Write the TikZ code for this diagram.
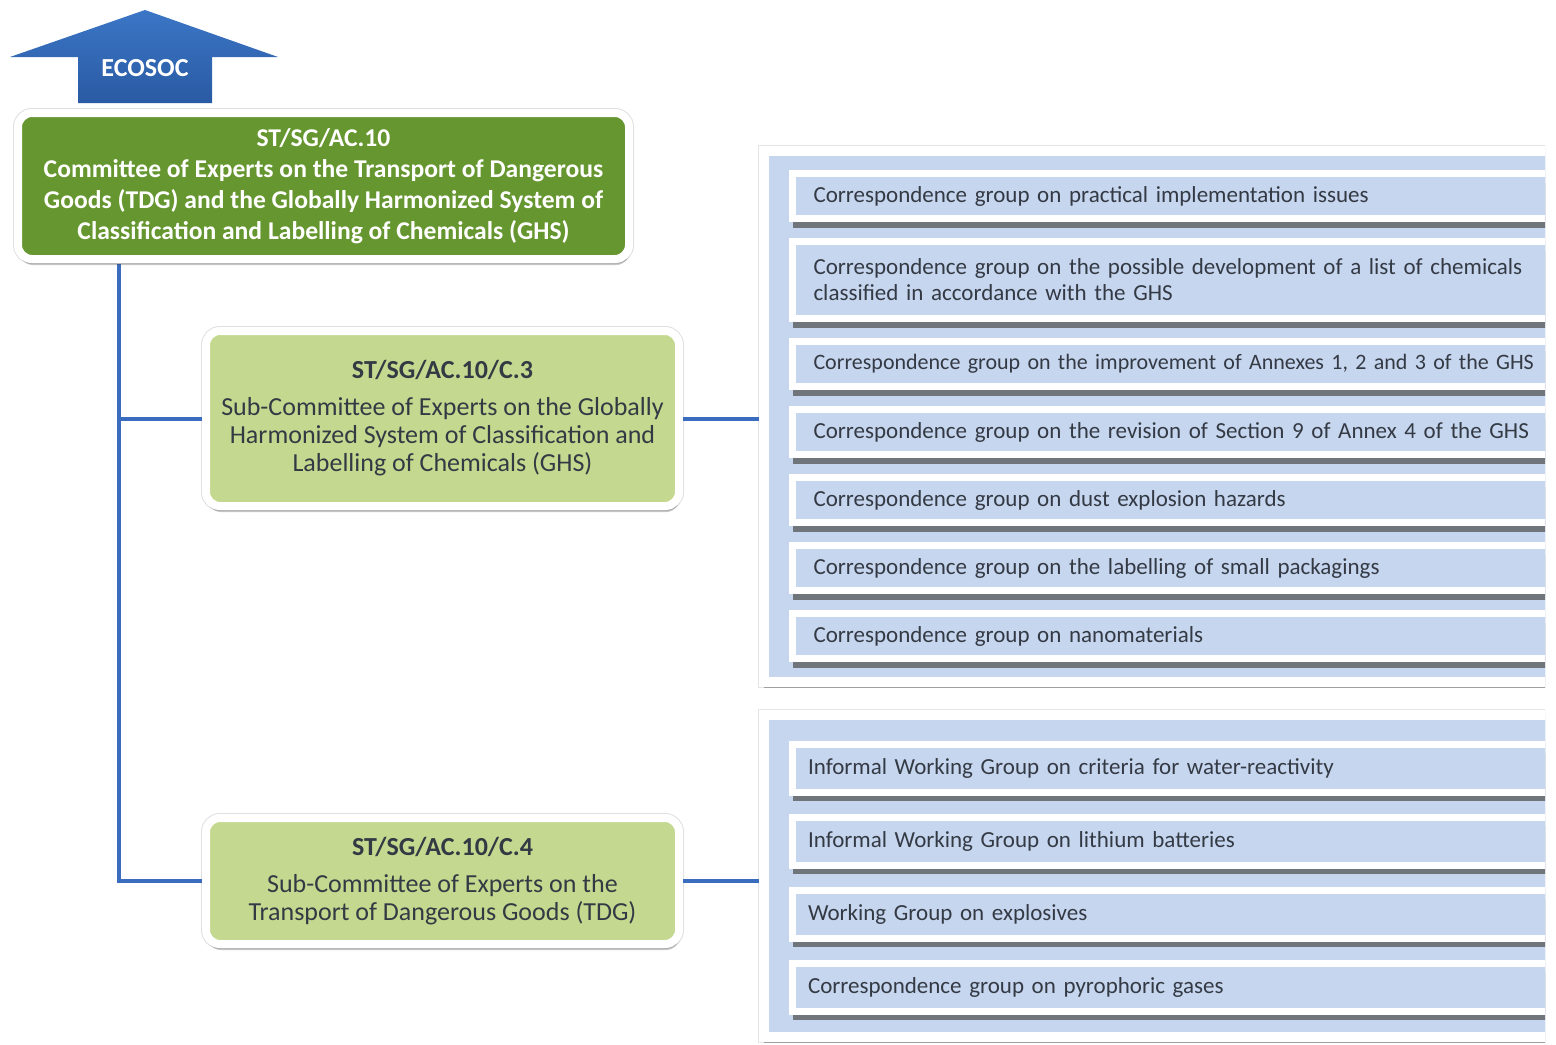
\documentclass[tikz,border=0pt]{standalone}
\usepackage{fontspec}
\setmainfont{Carlito}
\usetikzlibrary{positioning,shadows}

\definecolor{arrowtop}{HTML}{3B76C6}
\definecolor{arrowbot}{HTML}{2A5AA3}
\definecolor{lineblue}{HTML}{3A6DC0}
\definecolor{darkgreen}{HTML}{66962F}
\definecolor{lightgreen}{HTML}{C4D98F}
\definecolor{paleblue}{HTML}{C6D6EF}
\definecolor{textgray}{HTML}{343A44}

\tikzset{
  greenbox/.style={rectangle, rounded corners=7pt, draw=white, line width=4pt, align=center,
    preaction={draw=black!12, line width=5pt},
    drop shadow={shadow xshift=0.5pt, shadow yshift=-3pt, fill=black, opacity=.22}},
  maincom/.style={greenbox, fill=darkgreen, text=white, minimum width=305.5pt, minimum height=73pt,
    font=\bfseries\fontsize{12.8}{15.5}\selectfont},
  subcom/.style={greenbox, fill=lightgreen, text=textgray, minimum width=236.5pt,
    font=\fontsize{13}{14}\selectfont},
  panel/.style={rectangle, draw=white, line width=5pt, fill=paleblue, minimum width=420pt, anchor=north west,
    preaction={draw=black!10, line width=6pt},
    drop shadow={shadow xshift=0pt, shadow yshift=-3pt, fill=black, opacity=.3}},
  group/.style={rectangle, draw=white, line width=3.5pt, fill=paleblue, anchor=north west,
    inner xsep=10.5pt, text width=380pt, align=left, minimum height=22.5pt, text=textgray,
    font=\fontsize{11.5}{13}\selectfont,
    drop shadow={shadow xshift=0pt, shadow yshift=-4.5pt, fill=black!70, opacity=.7}},
  wgroup/.style={group, inner xsep=7.75pt, minimum height=24pt},
  link/.style={draw=lineblue, line width=2pt},
}

\begin{document}
\begin{tikzpicture}[x=0.5pt, y=-0.5pt]
\fill[white] (0,0) rectangle (1556,1044);
\useasboundingbox (0,0) rectangle (1556,1044);

% ECOSOC arrow
\shade[top color=arrowtop, bottom color=arrowbot]
  (10,57) -- (145,10) -- (278,57) -- (212,57) -- (212,103) -- (78,103) -- (78,57) -- cycle;
\node[text=white, font=\bfseries\fontsize{13}{15}\selectfont] (ecosoc) at (145,68) {ECOSOC};

% committee and sub-committees
\coordinate (trunk) at (119,262);
\node[subcom, minimum height=87.5pt] (c3) at (442.5,418.5)
  {\textbf{ST/SG/AC.10/C.3}\\[4.5pt] Sub-Committee of Experts on the Globally\\ Harmonized System of Classification and\\ Labelling of Chemicals (GHS)};
\node[subcom, minimum height=63pt] (c4) at (442.5,881)
  {\textbf{ST/SG/AC.10/C.4}\\[4.5pt] Sub-Committee of Experts on the\\ Transport of Dangerous Goods (TDG)};
\draw[link] (trunk) |- (c3.west);
\draw[link] (trunk) |- (c4.west);
\node[maincom] (ac10) at (323.5,186)
  {ST/SG/AC.10\\ Committee of Experts on the Transport of Dangerous\\ Goods (TDG) and the Globally Harmonized System of\\ Classification and Labelling of Chemicals (GHS)};

% groups
\begin{scope}
\clip (0,0) rectangle (1545,1044);
\node[panel, minimum height=265.5pt] (ghs) at (758.5,146) {};
\node[group] (g1) at (789,170) {Correspondence group on practical implementation issues};
\node[group, minimum height=38.5pt, below=8pt of g1] (g2) {Correspondence group on the possible development of a list of chemicals\\ classified in accordance with the GHS};
\node[group, below=8pt of g2, font=\fontsize{11}{13}\selectfont] (g3) {Correspondence group on the improvement of Annexes 1, 2 and 3 of the GHS};
\node[group, below=8pt of g3] (g4) {Correspondence group on the revision of Section 9 of Annex 4 of the GHS};
\node[group, below=8pt of g4] (g5) {Correspondence group on dust explosion hazards};
\node[group, below=8pt of g5] (g6) {Correspondence group on the labelling of small packagings};
\node[group, below=8pt of g6] (g7) {Correspondence group on nanomaterials};
%(760,718) rectangle (1545,1040);
\node[panel, minimum height=161pt] (tdg) at (758.5,710) {};
\node[wgroup] (w1) at (789,740.5) {Informal Working Group on criteria for water-reactivity};
\node[wgroup, below=9pt of w1] (w2) {Informal Working Group on lithium batteries};
\node[wgroup, below=9pt of w2] (w3) {Working Group on explosives};
\node[wgroup, below=9pt of w3] (w4) {Correspondence group on pyrophoric gases};
\end{scope}

\draw[link] (c3.east) -- (c3.east -| ghs.west);
\draw[link] (c4.east) -- (c4.east -| tdg.west);
\end{tikzpicture}
\end{document}
